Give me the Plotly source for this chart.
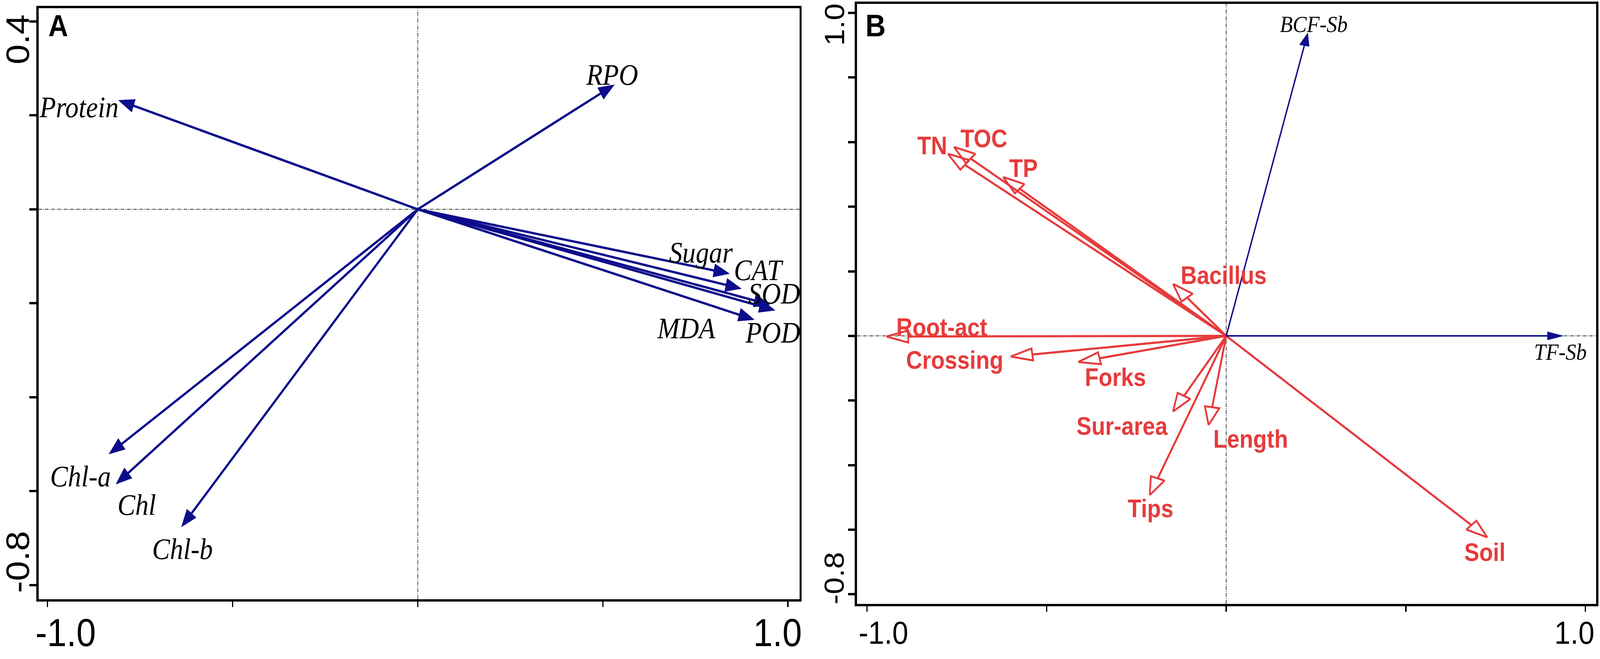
import math
import plotly.graph_objects as go

W, H = 4563, 1687

NAVY = "#0D0D8C"
RED = "#E63B3C"
SERIF = "Liberation Serif, Times New Roman, serif"
SANS = "Liberation Sans, Arial, sans-serif"

# ---- Panel A: physiological indices (arrow tips + label spots) ----
a_names = ["Protein", "RPO", "Sugar", "CAT", "SOD", "POD", "MDA", "Chl-a", "Chl", "Chl-b"]
a_x = [-0.808, 0.531, 0.842, 0.874, 0.951, 0.965, 0.909, -0.834, -0.815, -0.638]
a_y = [0.232, 0.265, -0.137, -0.169, -0.203, -0.215, -0.235, -0.521, -0.585, -0.676]
a_lab_x = [-0.915, 0.525, 0.765, 0.921, 0.963, 0.959, 0.725, -0.911, -0.759, -0.635]
a_lab_y = [0.218, 0.287, -0.092, -0.129, -0.179, -0.262, -0.253, -0.568, -0.629, -0.723]

# ---- Panel B: Sb indices (blue) and root / soil factors (red) ----
b_sb_names = ["BCF-Sb", "TF-Sb"]
b_sb_x = [0.227, 0.938]
b_sb_y = [0.938, 0.0]
b_sb_lab_x = [0.244, 0.930]
b_sb_lab_y = [0.965, -0.050]

b_names = ["TN", "TOC", "TP", "Bacillus", "Root-act", "Crossing", "Forks",
           "Sur-area", "Length", "Tips", "Soil"]
b_x = [-0.775, -0.758, -0.621, -0.148, -0.946, -0.600, -0.412, -0.148, -0.049, -0.213, 0.727]
b_y = [0.564, 0.585, 0.492, 0.161, -0.002, -0.064, -0.081, -0.234, -0.276, -0.493, -0.624]
b_lab_x = [-0.819, -0.675, -0.564, -0.007, -0.792, -0.756, -0.308, -0.290, 0.068, -0.211, 0.720]
b_lab_y = [0.589, 0.611, 0.519, 0.187, 0.027, -0.075, -0.129, -0.280, -0.319, -0.535, -0.670]

# axes
a_xrange = [-1.024, 1.031]
a_yrange = [-0.830, 0.428]
b_xrange = [-1.028, 1.030]
b_yrange = [-0.830, 1.028]
a_xticks = [-1.0, -0.5, 0.0, 0.5, 1.0]
a_yticks = [-0.8, -0.6, -0.4, -0.2, 0.0, 0.2, 0.4]
b_xticks = [-1.0, -0.5, 0.0, 0.5, 1.0]
b_yticks = [-0.8, -0.6, -0.4, -0.2, 0.0, 0.2, 0.4, 0.6, 0.8, 1.0]
a_xlabels = ["-1.0", "1.0"]
a_ylabels = ["0.4", "-0.8"]
b_xlabels = ["-1.0", "1.0"]
b_ylabels = ["1.0", "-0.8"]

# plot boxes in page pixels (left, right, top, bottom)
A_BOX = (110, 2280, 21, 1534)
B_BOX = (2444, 4552, 10, 1546)

ppx_a = (A_BOX[1] - A_BOX[0]) / (a_xrange[1] - a_xrange[0])
ppy_a = (A_BOX[3] - A_BOX[2]) / (a_yrange[1] - a_yrange[0])
ppx_b = (B_BOX[1] - B_BOX[0]) / (b_xrange[1] - b_xrange[0])
ppy_b = (B_BOX[3] - B_BOX[2]) / (b_yrange[1] - b_yrange[0])


def head(tx, ty, ppx, ppy, L, Wd, sx=1.0):
    # triangle head built in screen pixels; sx mimics the sideways stretch of panel B
    X, Y = tx * ppx / sx, ty * ppy
    n = math.hypot(X, Y)
    ux, uy = X / n, Y / n
    bx, by = X - L * ux, Y - L * uy
    nx, ny = -uy * Wd / 2, ux * Wd / 2
    pts = [(X, Y), (bx + nx, by + ny), (bx - nx, by - ny), (X, Y)]
    xs = [p[0] * sx / ppx for p in pts]
    ys = [p[1] / ppy for p in pts]
    return xs, ys, (bx * sx / ppx, by / ppy), ((X + bx) / 2 * sx / ppx, (Y + by) / 2 / ppy)


fig = go.Figure()


def add_arrow(xa, ya, tx, ty, ppx, ppy, color, width, L, Wd, filled, sx=1.0, head_w=5):
    hx, hy, base, mid = head(tx, ty, ppx, ppy, L, Wd, sx)
    end = mid if filled else base
    fig.add_trace(go.Scatter(x=[0, end[0]], y=[0, end[1]], xaxis=xa, yaxis=ya, mode="lines",
                             line=dict(color=color, width=width),
                             hoverinfo="skip", showlegend=False))
    if filled:
        fig.add_trace(go.Scatter(x=hx, y=hy, xaxis=xa, yaxis=ya, mode="lines", fill="toself",
                                 fillcolor=color, line=dict(color=color, width=1),
                                 hoverinfo="skip", showlegend=False))
    else:
        fig.add_trace(go.Scatter(x=hx, y=hy, xaxis=xa, yaxis=ya, mode="lines",
                                 line=dict(color=color, width=head_w),
                                 hoverinfo="skip", showlegend=False))


for tx, ty in zip(a_x, a_y):
    add_arrow("x", "y", tx, ty, ppx_a, ppy_a, NAVY, 6, 45, 34, True)

for tx, ty in zip(b_x, b_y):
    add_arrow("x2", "y2", tx, ty, ppx_b, ppy_b, RED, 5.5, 46, 31, False, sx=1.35, head_w=5)

for tx, ty in zip(b_sb_x, b_sb_y):
    add_arrow("x2", "y2", tx, ty, ppx_b, ppy_b, NAVY, 4, 33, 21, True, sx=1.35)


def label(**kw):
    kw.setdefault("xanchor", "center")
    kw.setdefault("yanchor", "middle")
    kw.setdefault("showarrow", False)
    return kw


# variable labels
ann = []
for name, lx, ly in zip(a_names, a_lab_x, a_lab_y):
    ann.append(label(x=lx, y=ly, xref="x", yref="y", text=f"<i>{name}</i>",
                     font=dict(family=SERIF, size=76, color="black")))
for name, lx, ly in zip(b_names, b_lab_x, b_lab_y):
    ann.append(label(x=lx, y=ly, xref="x2", yref="y2", text=f"<b>{name}</b>",
                     font=dict(family=SANS, size=64, color=RED)))
for name, lx, ly in zip(b_sb_names, b_sb_lab_x, b_sb_lab_y):
    ann.append(label(x=lx, y=ly, xref="x2", yref="y2", text=f"<i>{name}</i>",
                     font=dict(family=SERIF, size=60, color="black")))

# panel letters
ann.append(label(x=0, y=1, xref="x domain", yref="y domain", xshift=56, yshift=-45,
                 text="<b>A</b>", font=dict(family=SANS, size=78, color="black")))
ann.append(label(x=0, y=1, xref="x2 domain", yref="y2 domain", xshift=53, yshift=-56,
                 text="<b>B</b>", font=dict(family=SANS, size=80, color="black")))

# end tick labels (CANOCO style: pulled inside the axis span)
for lab, xv, xs in zip(a_xlabels, [-1.0, 1.0], [52, -30]):
    ann.append(label(x=xv, y=0, xref="x", yref="y domain", xshift=xs, yshift=-85, text=lab,
                     font=dict(family=SANS, size=100, color="black")))
for lab, yv, ys in zip(a_ylabels, [0.4, -0.8], [-46, 59]):
    ann.append(label(x=0, y=yv, xref="x domain", yref="y", xshift=-60, yshift=ys, text=lab,
                     textangle=-90, font=dict(family=SANS, size=92, color="black")))
for lab, xv, xs in zip(b_xlabels, [-1.0, 1.0], [47, -31]):
    ann.append(label(x=xv, y=0, xref="x2", yref="y2 domain", xshift=xs, yshift=-73, text=lab,
                     font=dict(family=SANS, size=82, color="black")))
for lab, yv, ys in zip(b_ylabels, [1.0, -0.8], [-30, 41]):
    ann.append(label(x=0, y=yv, xref="x2 domain", yref="y2", xshift=-64, yshift=ys, text=lab,
                     textangle=-90, font=dict(family=SANS, size=78, color="black")))

# dotted zero lines
zl = dict(color="#333333", width=2, dash="10px,3px,2px,3px")
shapes = [
    dict(type="line", xref="x", yref="y domain", x0=0, x1=0, y0=0, y1=1, line=zl, layer="below"),
    dict(type="line", xref="x domain", yref="y", x0=0, x1=1, y0=0, y1=0, line=zl, layer="below"),
    dict(type="line", xref="x2", yref="y2 domain", x0=0, x1=0, y0=0, y1=1, line=zl, layer="below"),
    dict(type="line", xref="x2 domain", yref="y2", x0=0, x1=1, y0=0, y1=0, line=zl, layer="below"),
]

box = dict(showgrid=False, zeroline=False, showline=True, linecolor="black", linewidth=6,
           mirror=True, ticks="outside", tickcolor="black", showticklabels=False)

fig.update_layout(
    width=W, height=H,
    margin=dict(l=0, r=0, t=0, b=0),
    paper_bgcolor="white", plot_bgcolor="white",
    showlegend=False,
    xaxis=dict(box, domain=[A_BOX[0] / W, A_BOX[1] / W], range=a_xrange, tickvals=a_xticks,
               ticklen=14, tickwidth=4, anchor="y"),
    yaxis=dict(box, domain=[1 - A_BOX[3] / H, 1 - A_BOX[2] / H], range=a_yrange,
               tickvals=a_yticks, ticklen=20, tickwidth=6, anchor="x"),
    xaxis2=dict(box, domain=[B_BOX[0] / W, B_BOX[1] / W], range=b_xrange, tickvals=b_xticks,
                ticklen=14, tickwidth=4, anchor="y2"),
    yaxis2=dict(box, domain=[1 - B_BOX[3] / H, 1 - B_BOX[2] / H], range=b_yrange,
                tickvals=b_yticks, ticklen=20, tickwidth=6, anchor="x2"),
    annotations=ann,
    shapes=shapes,
)

# fit the fixed-size figure to whatever CSS viewport the page gets
fit = """
document.documentElement.style.margin = '0';
document.body.style.margin = '0';
document.body.style.overflow = 'hidden';
var gd = document.getElementById('{plot_id}');
var sx = document.documentElement.clientWidth / %d;
var sy = document.documentElement.clientHeight / %d;
gd.style.transformOrigin = '0 0';
gd.style.transform = 'scale(' + sx + ',' + sy + ')';
""" % (W, H)

fig.write_html("out.html", post_script=fit, config={"displayModeBar": False})
